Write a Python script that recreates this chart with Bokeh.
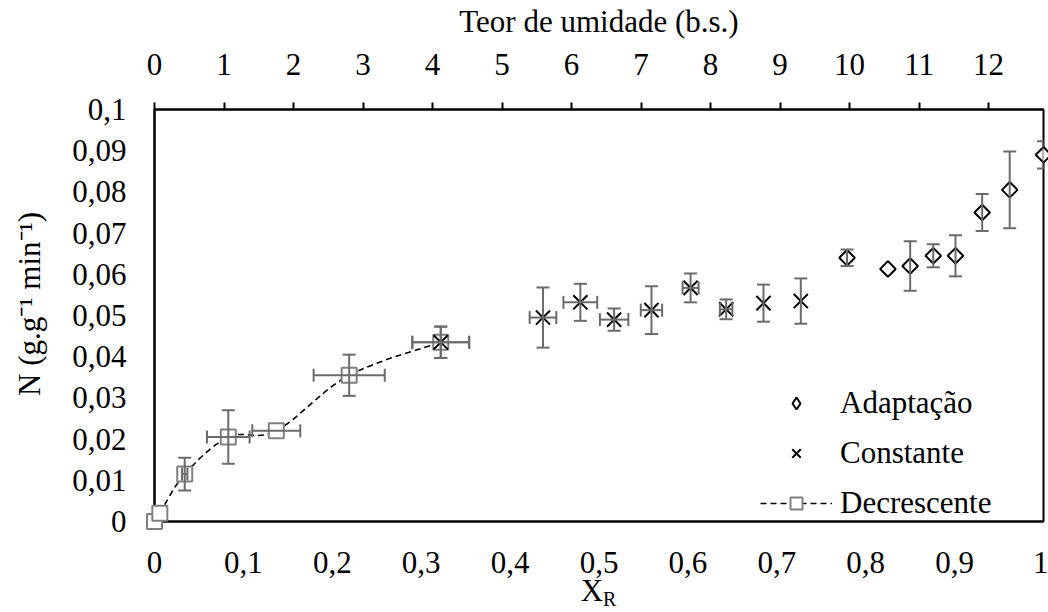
import numpy as np
from bokeh.plotting import figure
from bokeh.models import (ColumnDataSource, Range1d, LinearAxis, FixedTicker,
                          CustomJSTickFormatter, Whisker, TeeHead, Legend,
                          LegendItem)
from bokeh.core.properties import value
from bokeh.embed import file_html
from bokeh.resources import INLINE

# ---------------- data ----------------
# Decrescente (squares, smoothed dashed line)
dec_x = [0.0, 0.006, 0.034, 0.083, 0.137, 0.219, 0.322]
dec_n = [0.0, 0.002, 0.0115, 0.0205, 0.022, 0.0355, 0.0435]
dec_ex = [0.0, 0.0, 0.003, 0.024, 0.027, 0.040, 0.032]
dec_en = [0.0, 0.0, 0.004, 0.0065, 0.0, 0.005, 0.0038]

# Constante (crosses)
con_x = [0.322, 0.437, 0.479, 0.517, 0.559, 0.603, 0.643, 0.685, 0.727]
con_n = [0.0435, 0.0495, 0.0532, 0.049, 0.0513, 0.0567, 0.0515, 0.053, 0.0535]
con_ex = [0.032, 0.015, 0.019, 0.016, 0.012, 0.009, 0.007, 0.0, 0.0]
con_en = [0.0038, 0.0073, 0.0045, 0.0027, 0.0058, 0.0035, 0.0024, 0.0045, 0.0055]

# Adaptação (diamonds)
ada_x = [0.779, 0.825, 0.850, 0.876, 0.901, 0.931, 0.962, 1.0]
ada_n = [0.064, 0.0613, 0.062, 0.0645, 0.0645, 0.075, 0.0805, 0.089]
ada_en = [0.002, 0.0, 0.006, 0.0028, 0.005, 0.0045, 0.0093, 0.0033]

x_ticks = [0, 0.1, 0.2, 0.3, 0.4, 0.5, 0.6, 0.7, 0.8, 0.9, 1.0]
y_ticks = [0, 0.01, 0.02, 0.03, 0.04, 0.05, 0.06, 0.07, 0.08, 0.09, 0.1]
teor_ticks = [0, 1, 2, 3, 4, 5, 6, 7, 8, 9, 10, 11, 12]
teor_max = 12.79

FONT = "Liberation Serif"
FS = "31px"
BAR = "#6b6b6b"

p = figure(width=1048, height=612, output_backend="svg", toolbar_location=None,
           x_range=Range1d(0, 1), y_range=Range1d(0, 0.1),
           min_border_left=154, min_border_right=5, min_border_top=104,
           min_border_bottom=91)
p.xgrid.visible = False
p.ygrid.visible = False
p.outline_line_color = "black"
p.outline_line_width = 2
p.background_fill_color = "white"
p.border_fill_color = "white"

fmt = CustomJSTickFormatter(code="return Number(tick.toFixed(4)).toString().replace('.', ',');")

for ax in (p.xaxis[0], p.yaxis[0]):
    ax.formatter = fmt
    ax.major_label_text_font = FONT
    ax.major_label_text_font_size = FS
    ax.major_label_text_color = "black"
    ax.major_tick_line_color = None
    ax.minor_tick_line_color = None
    ax.axis_line_color = "black"
    ax.axis_line_width = 2
    ax.axis_label_text_font = FONT
    ax.axis_label_text_font_size = FS
    ax.axis_label_text_font_style = "normal"
    ax.axis_label_text_color = "black"

p.xaxis[0].ticker = FixedTicker(ticks=x_ticks)
p.yaxis[0].ticker = FixedTicker(ticks=y_ticks)
p.xaxis[0].major_label_standoff = 24
p.yaxis[0].major_label_standoff = 22
p.yaxis[0].axis_label = "\u00a0\u00a0\u00a0N (g.g\u207b\u00b9 min\u207b\u00b9)"
p.yaxis[0].axis_label_standoff = 22

# top axis: Teor de umidade
p.extra_x_ranges = {"teor": Range1d(0, teor_max)}
top = LinearAxis(x_range_name="teor", ticker=FixedTicker(ticks=teor_ticks))
top.axis_label = "Teor de umidade (b.s.)"
top.major_label_text_font = FONT
top.major_label_text_font_size = FS
top.major_label_text_color = "black"
top.axis_label_text_font = FONT
top.axis_label_text_font_size = FS
top.axis_label_text_font_style = "normal"
top.axis_label_text_color = "black"
top.major_tick_out = 7
top.major_tick_in = 0
top.major_tick_line_width = 2
top.major_tick_line_color = "black"
top.minor_tick_line_color = None
top.axis_line_width = 2
top.major_label_standoff = 28
top.axis_label_standoff = 12
p.add_layout(top, "above")

# ---------------- error bars ----------------
def add_whiskers(xs, ys, exs, eys):
    vy = [i for i in range(len(xs)) if eys[i] > 0]
    src_y = ColumnDataSource(dict(base=[xs[i] for i in vy],
                                  upper=[ys[i] + eys[i] for i in vy],
                                  lower=[ys[i] - eys[i] for i in vy]))
    w = Whisker(source=src_y, base="base", upper="upper", lower="lower",
                dimension="height", line_color=BAR, line_width=2, level="overlay",
                upper_head=TeeHead(size=13, line_color=BAR, line_width=2),
                lower_head=TeeHead(size=13, line_color=BAR, line_width=2))
    p.add_layout(w)
    if exs is not None:
        vx = [i for i in range(len(xs)) if exs[i] > 0]
        src_x = ColumnDataSource(dict(base=[ys[i] for i in vx],
                                      upper=[xs[i] + exs[i] for i in vx],
                                      lower=[xs[i] - exs[i] for i in vx]))
        w2 = Whisker(source=src_x, base="base", upper="upper", lower="lower",
                     dimension="width", line_color=BAR, line_width=2, level="overlay",
                     upper_head=TeeHead(size=13, line_color=BAR, line_width=2),
                     lower_head=TeeHead(size=13, line_color=BAR, line_width=2))
        p.add_layout(w2)

add_whiskers(dec_x, dec_n, dec_ex, dec_en)
add_whiskers(con_x, con_n, con_ex, con_en)
add_whiskers(ada_x, ada_n, None, ada_en)

# ---------------- smoothed dashed curve (Catmull-Rom -> Bezier) ----------------
px = np.array(dec_x)
py = np.array(dec_n)
ext_x = np.concatenate([[px[0]], px, [px[-1]]])
ext_y = np.concatenate([[py[0]], py, [py[-1]]])
x0 = ext_x[1:-2]; x1 = ext_x[2:-1]
y0 = ext_y[1:-2]; y1 = ext_y[2:-1]
cx0 = x0 + (ext_x[2:-1] - ext_x[0:-3]) / 6.0
cy0 = y0 + (ext_y[2:-1] - ext_y[0:-3]) / 6.0
cx1 = x1 - (ext_x[3:] - ext_x[1:-2]) / 6.0
cy1 = y1 - (ext_y[3:] - ext_y[1:-2]) / 6.0
curve_src = ColumnDataSource(dict(x0=x0, y0=y0, x1=x1, y1=y1,
                                  cx0=cx0, cy0=cy0, cx1=cx1, cy1=cy1))
r_curve = p.bezier(x0="x0", y0="y0", x1="x1", y1="y1", cx0="cx0", cy0="cy0",
                   cx1="cx1", cy1="cy1", source=curve_src, line_color="black",
                   line_width=1.6, line_dash="6 4", level="overlay")

# ---------------- markers ----------------
r_dec = p.scatter(dec_x, dec_n, marker="square", size=15, fill_color="white",
                  line_color="#808080", line_width=2, level="overlay")
r_con = p.scatter(con_x, con_n, marker="x", size=20, line_color="black",
                  line_width=2, level="overlay")
r_ada = p.scatter(ada_x, ada_n, marker="square", size=11, angle=np.pi / 4,
                  fill_color="white", line_color="black", line_width=2,
                  level="overlay")
# legend-only diamond glyph (a single non-finite point, never drawn in the plot)
leg_src = ColumnDataSource(dict(x=np.array([np.nan]), y=np.array([np.nan])))
r_ada_leg = p.scatter(x="x", y="y", source=leg_src, marker="diamond",
                      fill_color="white", line_color="black", line_width=2,
                      level="overlay")

# ---------------- legend ----------------
legend = Legend(items=[LegendItem(label="Adaptação", renderers=[r_ada_leg]),
                       LegendItem(label="Constante", renderers=[r_con]),
                       LegendItem(label="Decrescente", renderers=[r_curve, r_dec])],
                location=(606, 0), orientation="vertical",
                label_text_font=FONT, label_text_font_size=FS,
                label_text_baseline="middle", label_text_color="black",
                glyph_width=72, glyph_height=30, label_height=30,
                spacing=14, padding=5, margin=0, label_standoff=8,
                background_fill_alpha=0, border_line_color=None)
p.add_layout(legend)

# ---------------- X_R axis title ----------------
p.text(x=[0.5], y=[0.0], text=["X"], x_offset=-7, y_offset=69,
       text_font=value(FONT), text_font_size=FS, text_align="center",
       text_baseline="middle", text_color="black", level="overlay")
p.text(x=[0.5], y=[0.0], text=["R"], x_offset=4, y_offset=77,
       text_font=value(FONT), text_font_size="20px", text_align="left",
       text_baseline="middle", text_color="black", level="overlay")

open("out.html", "w").write(file_html(p, INLINE))
